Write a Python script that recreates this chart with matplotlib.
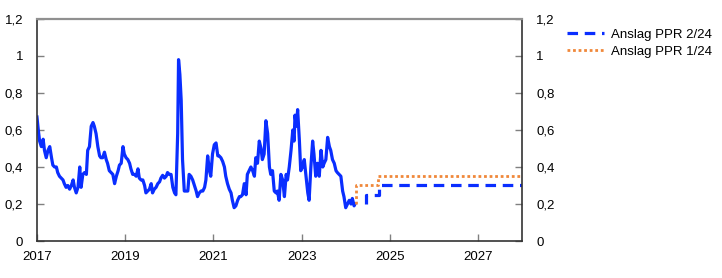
import matplotlib
matplotlib.use("Agg")
import matplotlib.pyplot as plt
from matplotlib.ticker import FuncFormatter

plt.rcParams['font.family'] = ['Liberation Sans', 'DejaVu Sans']

# -------------------------------
# Data (decimal years)
# -------------------------------
hist_years = [
    2017.00, 2017.03, 2017.06, 2017.10, 2017.14, 2017.17, 2017.21, 2017.25, 2017.29, 2017.33,
    2017.36, 2017.40, 2017.44, 2017.47, 2017.51, 2017.55, 2017.59, 2017.62, 2017.66, 2017.70,
    2017.74, 2017.78, 2017.82, 2017.85, 2017.89, 2017.93, 2017.97, 2018.00, 2018.04, 2018.08,
    2018.12, 2018.15, 2018.19, 2018.23, 2018.27, 2018.30, 2018.34, 2018.38, 2018.42, 2018.45,
    2018.49, 2018.53, 2018.57, 2018.60, 2018.64, 2018.68, 2018.72, 2018.76, 2018.80, 2018.84,
    2018.87, 2018.91, 2018.95, 2018.98, 2019.02, 2019.06, 2019.10, 2019.13, 2019.17, 2019.21,
    2019.25, 2019.29, 2019.32, 2019.36, 2019.40, 2019.44, 2019.47, 2019.51, 2019.55, 2019.59,
    2019.62, 2019.66, 2019.70, 2019.74, 2019.78, 2019.81, 2019.85, 2019.89, 2019.93, 2019.96,
    2020.00, 2020.04, 2020.08, 2020.12, 2020.15, 2020.19, 2020.21, 2020.24, 2020.27, 2020.30,
    2020.34, 2020.38, 2020.42, 2020.45, 2020.49, 2020.53, 2020.57, 2020.61, 2020.64, 2020.68,
    2020.72, 2020.76, 2020.80, 2020.83, 2020.87, 2020.91, 2020.94, 2020.98, 2021.02, 2021.06,
    2021.10, 2021.13, 2021.17, 2021.21, 2021.25, 2021.28, 2021.32, 2021.36, 2021.40, 2021.43,
    2021.47, 2021.51, 2021.55, 2021.59, 2021.62, 2021.66, 2021.70, 2021.74, 2021.77, 2021.81,
    2021.85, 2021.89, 2021.93, 2021.96, 2022.00, 2022.04, 2022.08, 2022.11, 2022.15, 2022.19,
    2022.23, 2022.27, 2022.30, 2022.34, 2022.38, 2022.42, 2022.45, 2022.49, 2022.53, 2022.57,
    2022.61, 2022.65, 2022.68, 2022.72, 2022.76, 2022.80, 2022.83, 2022.85, 2022.88, 2022.91,
    2022.95, 2022.98, 2023.02, 2023.06, 2023.10, 2023.14, 2023.17, 2023.21, 2023.25, 2023.28,
    2023.32, 2023.36, 2023.40, 2023.44, 2023.48, 2023.51, 2023.55, 2023.59, 2023.63, 2023.66,
    2023.70, 2023.74, 2023.78, 2023.81, 2023.85, 2023.89, 2023.93, 2023.96, 2024.00, 2024.04,
    2024.08, 2024.12, 2024.15, 2024.19, 2024.21,
]
hist_values = [
    0.67, 0.60, 0.54, 0.51, 0.55, 0.49, 0.45, 0.49, 0.51, 0.45,
    0.41, 0.40, 0.40, 0.37, 0.35, 0.34, 0.33, 0.31, 0.29, 0.30,
    0.28, 0.30, 0.33, 0.29, 0.26, 0.29, 0.40, 0.29, 0.36, 0.37,
    0.36, 0.49, 0.51, 0.62, 0.64, 0.62, 0.58, 0.51, 0.46, 0.45,
    0.45, 0.48, 0.44, 0.42, 0.38, 0.37, 0.36, 0.31, 0.35, 0.38,
    0.41, 0.42, 0.51, 0.47, 0.45, 0.44, 0.42, 0.39, 0.36, 0.36,
    0.35, 0.39, 0.34, 0.33, 0.33, 0.30, 0.26, 0.27, 0.28, 0.31,
    0.26, 0.28, 0.29, 0.31, 0.32, 0.34, 0.355, 0.34, 0.35, 0.37,
    0.36, 0.36, 0.29, 0.26, 0.25, 0.58, 0.98, 0.90, 0.76, 0.44,
    0.27, 0.27, 0.27, 0.36, 0.35, 0.33, 0.30, 0.27, 0.24, 0.26,
    0.27, 0.27, 0.29, 0.33, 0.46, 0.38, 0.35, 0.47, 0.52, 0.53,
    0.46, 0.46, 0.45, 0.43, 0.40, 0.35, 0.31, 0.28, 0.26, 0.22,
    0.18, 0.19, 0.22, 0.24, 0.24, 0.25, 0.31, 0.25, 0.36, 0.38,
    0.40, 0.38, 0.35, 0.45, 0.42, 0.54, 0.50, 0.44, 0.47, 0.65,
    0.58, 0.40, 0.36, 0.38, 0.27, 0.26, 0.27, 0.22, 0.36, 0.33,
    0.24, 0.36, 0.33, 0.40, 0.49, 0.60, 0.54, 0.68, 0.62, 0.71,
    0.54, 0.38, 0.40, 0.44, 0.35, 0.26, 0.22, 0.40, 0.54, 0.47,
    0.35, 0.42, 0.35, 0.49, 0.40, 0.42, 0.44, 0.56, 0.51, 0.49,
    0.44, 0.42, 0.38, 0.37, 0.36, 0.35, 0.27, 0.24, 0.18, 0.20,
    0.22, 0.20, 0.23, 0.19, 0.20,
]

ppr2_years = [2024.46, 2024.75, 2028.0]
ppr2_values = [0.20, 0.25, 0.30]

ppr1_years = [2024.23, 2024.74, 2028.0]
ppr1_values = [0.20, 0.30, 0.35]

blue = "#0A2EFF"
orange = "#F0883A"

# -------------------------------
# Plot
# -------------------------------
fig = plt.figure(figsize=(7.22, 2.78), dpi=100)
ax = fig.add_axes([0.0512, 0.133, 0.672, 0.799])

ax.plot(hist_years, hist_values, color=blue, lw=2.3, solid_joinstyle='round')
ax.plot(ppr2_years, ppr2_values, color=blue, lw=2.3, drawstyle='steps-pre',
        dashes=(3.3, 2.1), label="Anslag PPR 2/24")
ax.plot(ppr1_years, ppr1_values, color=orange, lw=2.0, drawstyle='steps-pre',
        dashes=(1, 1), label="Anslag PPR 1/24")

ax.set_xlim(2017, 2028)
ax.set_ylim(0, 1.2)
ax.set_xticks([2017, 2019, 2021, 2023, 2025, 2027])
ax.set_xticklabels(["2017", "2019", "2021", "2023", "2025", "2027"])
ax.set_yticks([0, 0.2, 0.4, 0.6, 0.8, 1.0, 1.2])

fmt = FuncFormatter(lambda v, p: ("%.1f" % v).rstrip("0").rstrip(".").replace(".", ","))
ax.yaxis.set_major_formatter(fmt)

ax.tick_params(axis='both', direction='in', length=5, width=1, color='#808080',
               labelsize=9.5, labelcolor='black')
ax.tick_params(axis='y', pad=10, left=True, right=True, labelleft=True, labelright=True)
ax.tick_params(axis='x', pad=7.5)

for side in ['left', 'bottom', 'right']:
    ax.spines[side].set_color('#333333')
    ax.spines[side].set_linewidth(1.2)
ax.spines['top'].set_color('#909090')
ax.spines['top'].set_linewidth(1.6)

fig.legend(loc='upper left', bbox_to_anchor=(0.786, 0.897), frameon=False,
           fontsize=9.5, handlelength=2.8, handletextpad=0.5, labelspacing=0.35,
           borderpad=0, borderaxespad=0)

fig.savefig("out.png", dpi=100)
